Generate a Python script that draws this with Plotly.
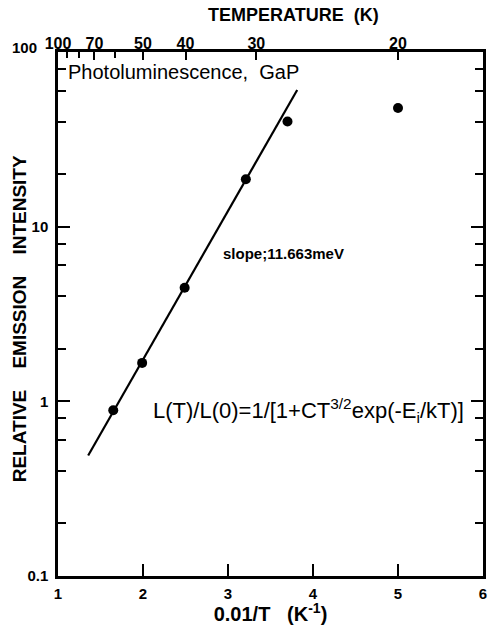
import plotly.graph_objects as go

# Data
inv_T = [1.65, 1.99, 2.49, 3.21, 3.70, 5.00]          # 0.01/T (K^-1), i.e. 100/T
intensity = [0.89, 1.66, 4.47, 18.7, 40.0, 47.8]      # relative emission intensity

fit_x = [1.355, 3.814]
fit_y = [0.49, 60.6]

x_ticks = [1, 2, 3, 4, 5, 6]
y_ticks = [0.1, 1, 10, 100]
y_ticktext = ["0.1", "1", "10", ""]   # "100" drawn as a label just above the corner
y_minor = [0.2, 0.4, 0.6, 0.8, 2, 4, 6, 8, 20, 40, 60, 80]

temp_major = [100, 70, 50, 40, 30, 20]
temp_minor = [90, 80, 60]

FONT = "Liberation Sans"

fig = go.Figure()
fig.add_trace(go.Scatter(x=fit_x, y=fit_y, mode="lines",
                         line=dict(color="black", width=2.2), showlegend=False,
                         hoverinfo="skip"))
fig.add_trace(go.Scatter(x=inv_T, y=intensity, mode="markers",
                         marker=dict(color="black", size=10), showlegend=False))
# invisible trace to create the top temperature axis
fig.add_trace(go.Scatter(x=fit_x, y=fit_y, xaxis="x2", mode="lines",
                         line=dict(color="rgba(0,0,0,0)"), showlegend=False,
                         hoverinfo="skip"))

fig.update_layout(
    width=489, height=625,
    margin=dict(l=58, r=3, t=52, b=49),
    paper_bgcolor="white", plot_bgcolor="white",
    font=dict(family=FONT, color="black"),
    xaxis=dict(
        range=[1, 6], tickvals=x_ticks, ticktext=[str(v) for v in x_ticks],
        ticks="inside", ticklen=12, tickwidth=2, tickcolor="black",
        showline=True, linecolor="black", linewidth=2.5, showgrid=False,
        zeroline=False, ticklabelstandoff=2,
        tickfont=dict(family=FONT, size=15, weight="bold"),
        title=dict(text="0.01/T   (K<sup>-1</sup>)",
                   font=dict(family=FONT, size=20, weight="bold"), standoff=6),
    ),
    xaxis2=dict(
        overlaying="x", side="top", range=[1, 6],
        tickvals=[100 / t for t in temp_major],
        ticktext=[str(t) for t in temp_major],
        ticks="inside", ticklen=8, tickwidth=2, tickcolor="black",
        minor=dict(tickvals=[100 / t for t in temp_minor], ticks="inside",
                   ticklen=6, tickwidth=1.5, tickcolor="black"),
        showline=True, linecolor="black", linewidth=2.5, showgrid=False,
        zeroline=False, ticklabelstandoff=-6,
        tickfont=dict(family=FONT, size=16, weight="bold"),
    ),
    yaxis=dict(
        type="log", range=[-1, 2], tickvals=y_ticks, ticktext=y_ticktext,
        ticks="inside", ticklen=12, tickwidth=2, tickcolor="black",
        minor=dict(tickvals=y_minor, ticks="inside", ticklen=8, tickwidth=2,
                   tickcolor="black"),
        showline=True, linecolor="black", linewidth=2.5, mirror="ticks",
        showgrid=False, zeroline=False, ticklabelstandoff=4,
        tickfont=dict(family=FONT, size=15, weight="bold"),
    ),
    annotations=[
        dict(text="100", xref="paper", yref="paper",
             x=(39 - 58) / 428, y=(576 - 47) / 524,
             xanchor="right", yanchor="middle", showarrow=False,
             font=dict(family=FONT, size=15, weight="bold")),
        dict(text="TEMPERATURE  (K)", xref="paper", yref="paper",
             x=(295 - 58) / 428, y=(576 - 15) / 524,
             xanchor="center", yanchor="middle", showarrow=False,
             font=dict(family=FONT, size=18, weight="bold")),
        dict(text="RELATIVE    EMISSION    INTENSITY", xref="paper",
             yref="paper", x=(19 - 58) / 428, y=(576 - 319) / 524,
             xanchor="center", yanchor="middle", textangle=-90,
             showarrow=False,
             font=dict(family=FONT, size=19, weight="bold")),
        dict(text="Photoluminescence,  GaP", xref="paper", yref="paper",
             x=0.018, y=0.962, xanchor="left", yanchor="middle",
             showarrow=False, font=dict(family=FONT, size=20)),
        dict(text="slope;11.663meV", xref="x", yref="y",
             x=2.916, y=0.845, xanchor="left", yanchor="middle",
             showarrow=False,
             font=dict(family=FONT, size=15, weight="bold")),
        dict(text="L(T)/L(0)=1/[1+CT<sup>3/2</sup>exp(-E<sub>i</sub>/kT)]",
             xref="x", yref="y", x=2.098, y=-0.055,
             xanchor="left", yanchor="middle", showarrow=False,
             font=dict(family=FONT, size=22)),
    ],
)

fig.write_html("out.html", config={"displayModeBar": False},
               post_script="document.body.style.margin='0px';")
